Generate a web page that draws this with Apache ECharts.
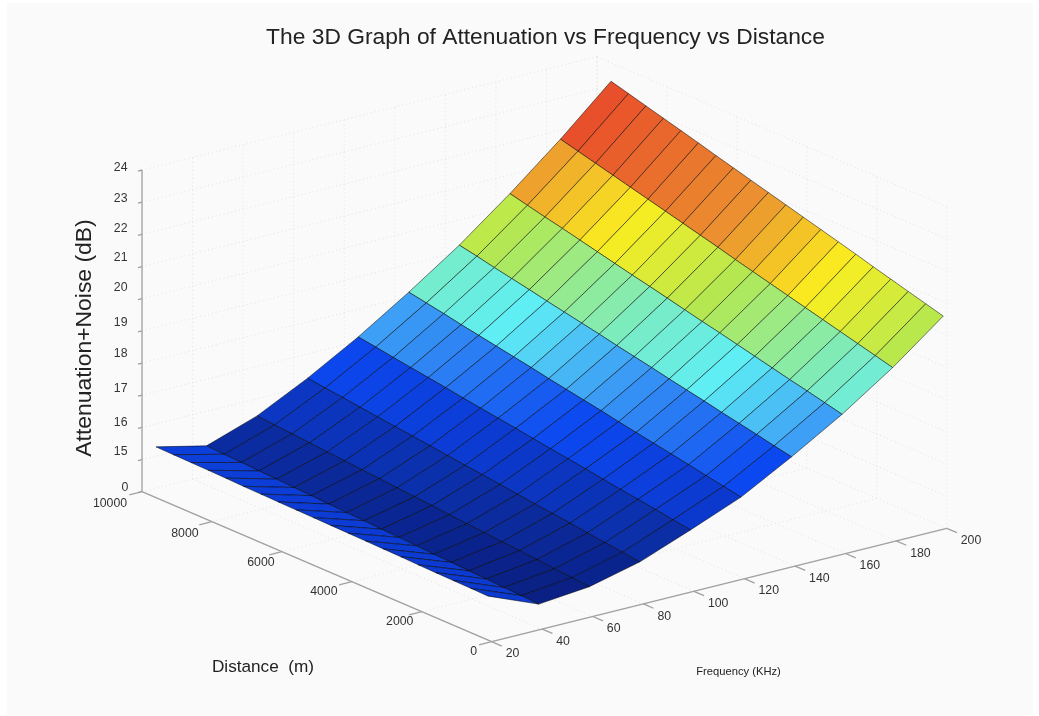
<!DOCTYPE html>
<html><head><meta charset="utf-8">
<style>html,body{margin:0;padding:0;background:#fff}#c{width:1039px;height:716px;filter:blur(0.45px)}</style>
<script src="https://cdn.jsdelivr.net/npm/echarts@6/dist/echarts.min.js"></script>
</head><body><div id="c"></div>
<script>
const freqKHz = [20,40,60,80,100,120,140,160,180,200];
const distM = [100,600,1100,1600,2100,2600,3100,3600,4100,4600,5100,5600,6100,6600,7100,7600,8100,8600,9100,9600];
const dB20  = [15.37,15.38,15.39,15.40,15.41,15.43,15.44,15.45,15.46,15.47,15.48,15.49,15.50,15.51,15.52,15.54,15.55,15.56,15.57,15.58];
const dB40  = [14.73,14.76,14.78,14.81,14.83,14.86,14.88,14.91,14.94,14.96,14.99,15.01,15.04,15.07,15.09,15.12,15.14,15.17,15.19,15.22];
const dB60  = [14.88,14.93,14.97,15.02,15.07,15.11,15.16,15.20,15.25,15.30,15.34,15.39,15.44,15.48,15.53,15.57,15.62,15.67,15.71,15.76];
const dB80  = [15.26,15.33,15.39,15.46,15.53,15.60,15.66,15.73,15.80,15.87,15.93,16.00,16.07,16.14,16.20,16.27,16.34,16.41,16.47,16.54];
const dB100 = [15.86,15.94,16.03,16.11,16.19,16.27,16.36,16.44,16.52,16.60,16.69,16.77,16.85,16.93,17.02,17.10,17.18,17.26,17.35,17.43];
const dB120 = [16.49,16.59,16.69,16.80,16.90,17.00,17.10,17.20,17.31,17.41,17.51,17.61,17.72,17.82,17.92,18.02,18.12,18.23,18.33,18.43];
const dB140 = [17.35,17.46,17.58,17.69,17.80,17.92,18.03,18.14,18.26,18.37,18.48,18.60,18.71,18.82,18.93,19.05,19.16,19.27,19.39,19.50];
const dB160 = [18.28,18.41,18.54,18.66,18.79,18.92,19.05,19.18,19.30,19.43,19.56,19.69,19.81,19.94,20.07,20.20,20.33,20.45,20.58,20.71];
const dB180 = [19.34,19.48,19.62,19.76,19.90,20.04,20.18,20.32,20.46,20.60,20.75,20.89,21.03,21.17,21.31,21.45,21.59,21.73,21.87,22.01];
const dB200 = [20.55,20.70,20.85,21.00,21.15,21.31,21.46,21.61,21.76,21.91,22.06,22.21,22.36,22.51,22.67,22.82,22.97,23.12,23.27,23.42];
const surface = [dB20,dB40,dB60,dB80,dB100,dB120,dB140,dB160,dB180,dB200];

const zTicks = [14,15,16,17,18,19,20,21,22,23,24];
const zTickLabels = ['0','15','16','17','18','19','20','21','22','23','24'];
const dTicks = [0,2000,4000,6000,8000,10000];
const fTicks = [20,40,60,80,100,120,140,160,180,200];

// colour scale (value -> colour)
const colorVals = [14.7,15.3,15.9,16.5,17.35,17.9,18.4,19.3,20.0,20.7,22.0];
const colorHex = ['#0a1f82','#0b2fa8','#0c3ad0','#0c48f0','#3d9ff5','#5eeef5','#78ecc8','#b5e850','#fbee20','#eb9230','#e8482a'];
const bandColorShift = [0.5,0,0,0,0,0,0,0,0];

// label placement nudges
const zLabelDy = [-4,-7.8,-5.1,-6.9,-9.7,-8.2,-11.4,-9.2,-6.1,-3.2,-2.3];
const dLabelDx = [-18,-22,-28,-21,-27,-32];
const dLabelDy = [10,9.5,10,11,11.6,12.3];

// orthographic view of the 3D box
const view = {ox:491.7, oy:641.7, fx:2.528, fy:-0.63, dx:-0.03497, dy:-0.015, zy:-32.17};
function project(f,d,z){
  return [view.ox+(f-20)*view.fx+d*view.dx, view.oy+(f-20)*view.fy+d*view.dy+(z-14)*view.zy];
}
function colorOf(v){
  if(v<=colorVals[0]) return colorHex[0];
  for(let i=1;i<colorVals.length;i++){
    if(v<=colorVals[i]){
      const t=(v-colorVals[i-1])/(colorVals[i]-colorVals[i-1]);
      return echarts.color.lerp(t,[colorHex[i-1],colorHex[i]]);
    }
  }
  return colorHex[colorHex.length-1];
}

// surface cells
const cells=[];
for(let i=surface.length-2;i>=0;i--){
  for(let j=distM.length-2;j>=0;j--){
    cells.push([freqKHz[i],distM[j],surface[i][j],
                freqKHz[i+1],distM[j],surface[i+1][j],
                freqKHz[i+1],distM[j+1],surface[i+1][j+1],
                freqKHz[i],distM[j+1],surface[i][j+1],
                surface[i][j]+bandColorShift[i]]);
  }
}
// dotted box grid
const grid=[];
zTicks.slice(1).forEach(z=>{grid.push([20,10000,z,200,10000,z]);grid.push([200,10000,z,200,0,z]);});
fTicks.forEach(f=>{grid.push([f,10000,14,f,10000,24]);grid.push([f,0,14,f,10000,14]);});
dTicks.forEach(d=>{grid.push([200,d,14,200,d,24]);grid.push([20,d,14,200,d,14]);});
// axes and ticks
const axes=[[20,10000,14,20,10000,24],[20,0,14,20,10000,14],[20,0,14,200,0,14]];
zTicks.forEach(z=>axes.push([20,10000,z,18.4,10000,z]));
dTicks.forEach(d=>axes.push([20,d,14,15,d,14]));
fTicks.forEach(f=>axes.push([f,0,14,f,-290,14]));

const labels=[];
zTicks.forEach((z,i)=>labels.push({p:[20,10000,z],t:zTickLabels[i],dx:i===0?-17:-21.3,dy:zLabelDy[i],a:'center'}));
dTicks.forEach((d,i)=>labels.push({p:[20,d,14],t:String(d),dx:dLabelDx[i],dy:dLabelDy[i],a:'center'}));
fTicks.forEach(f=>labels.push({p:[f,0,14],t:String(f),dx:14,dy:12.3,a:'left'}));

function segRender(style){
  return function(params,api){
    const a=api.coord(project(api.value(0),api.value(1),api.value(2)));
    const b=api.coord(project(api.value(3),api.value(4),api.value(5)));
    return {type:'line',shape:{x1:a[0],y1:a[1],x2:b[0],y2:b[1]},style:style,silent:true};
  };
}
const FONT='"Liberation Sans",Arial,sans-serif';
const chart=echarts.init(document.getElementById('c'),null,{renderer:'canvas'});
chart.setOption({
  animation:false,
  backgroundColor:'#ffffff',
  grid:{left:0,right:0,top:0,bottom:0},
  xAxis:{type:'value',min:0,max:1039,show:false},
  yAxis:{type:'value',min:0,max:716,inverse:true,show:false},
  graphic:[
    {type:'rect',z:0,silent:true,shape:{x:7,y:3,width:1026,height:712},style:{fill:'#fafafa'}},
    {type:'text',z:10,x:545.5,y:37.5,style:{text:'The 3D Graph of Attenuation vs Frequency vs Distance',font:'22.8px '+FONT,fill:'#222',textAlign:'center',textVerticalAlign:'middle'}},
    {type:'text',z:10,x:85,y:338,rotation:Math.PI/2,style:{text:'Attenuation+Noise (dB)',font:'22.9px '+FONT,fill:'#222',textAlign:'center',textVerticalAlign:'middle'}},
    {type:'text',z:10,x:263,y:667,style:{text:'Distance  (m)',font:'17.2px '+FONT,fill:'#222',textAlign:'center',textVerticalAlign:'middle'}},
    {type:'text',z:10,x:738.5,y:672,style:{text:'Frequency (KHz)',font:'11.2px '+FONT,fill:'#222',textAlign:'center',textVerticalAlign:'middle'}}
  ],
  series:[
    {type:'custom',coordinateSystem:'cartesian2d',z:2,clip:false,data:grid,
     renderItem:segRender({stroke:'#e3e3e3',lineWidth:1,lineDash:[1,3],fill:null})},
    {type:'custom',coordinateSystem:'cartesian2d',z:3,clip:false,data:axes,
     renderItem:segRender({stroke:'#a0a0a0',lineWidth:1.3,fill:null})},
    {type:'custom',coordinateSystem:'cartesian2d',z:4,clip:false,data:cells,
     renderItem:function(params,api){
       const pts=[0,3,6,9].map(k=>api.coord(project(api.value(k),api.value(k+1),api.value(k+2))));
       return {type:'polygon',shape:{points:pts},silent:true,
         style:{fill:colorOf(api.value(12)),stroke:'rgba(0,0,0,0.5)',lineWidth:1,lineJoin:'round'}};
     }},
    {type:'custom',coordinateSystem:'cartesian2d',z:5,clip:false,data:labels.map(l=>l.p),
     renderItem:function(params,api){
       const l=labels[params.dataIndex];
       const c=api.coord(project(api.value(0),api.value(1),api.value(2)));
       return {type:'text',x:c[0]+l.dx,y:c[1]+l.dy,silent:true,
         style:{text:l.t,font:'12.3px '+FONT,fill:'#333',textAlign:l.a,textVerticalAlign:'middle'}};
     }}
  ]
});
</script></body></html>
